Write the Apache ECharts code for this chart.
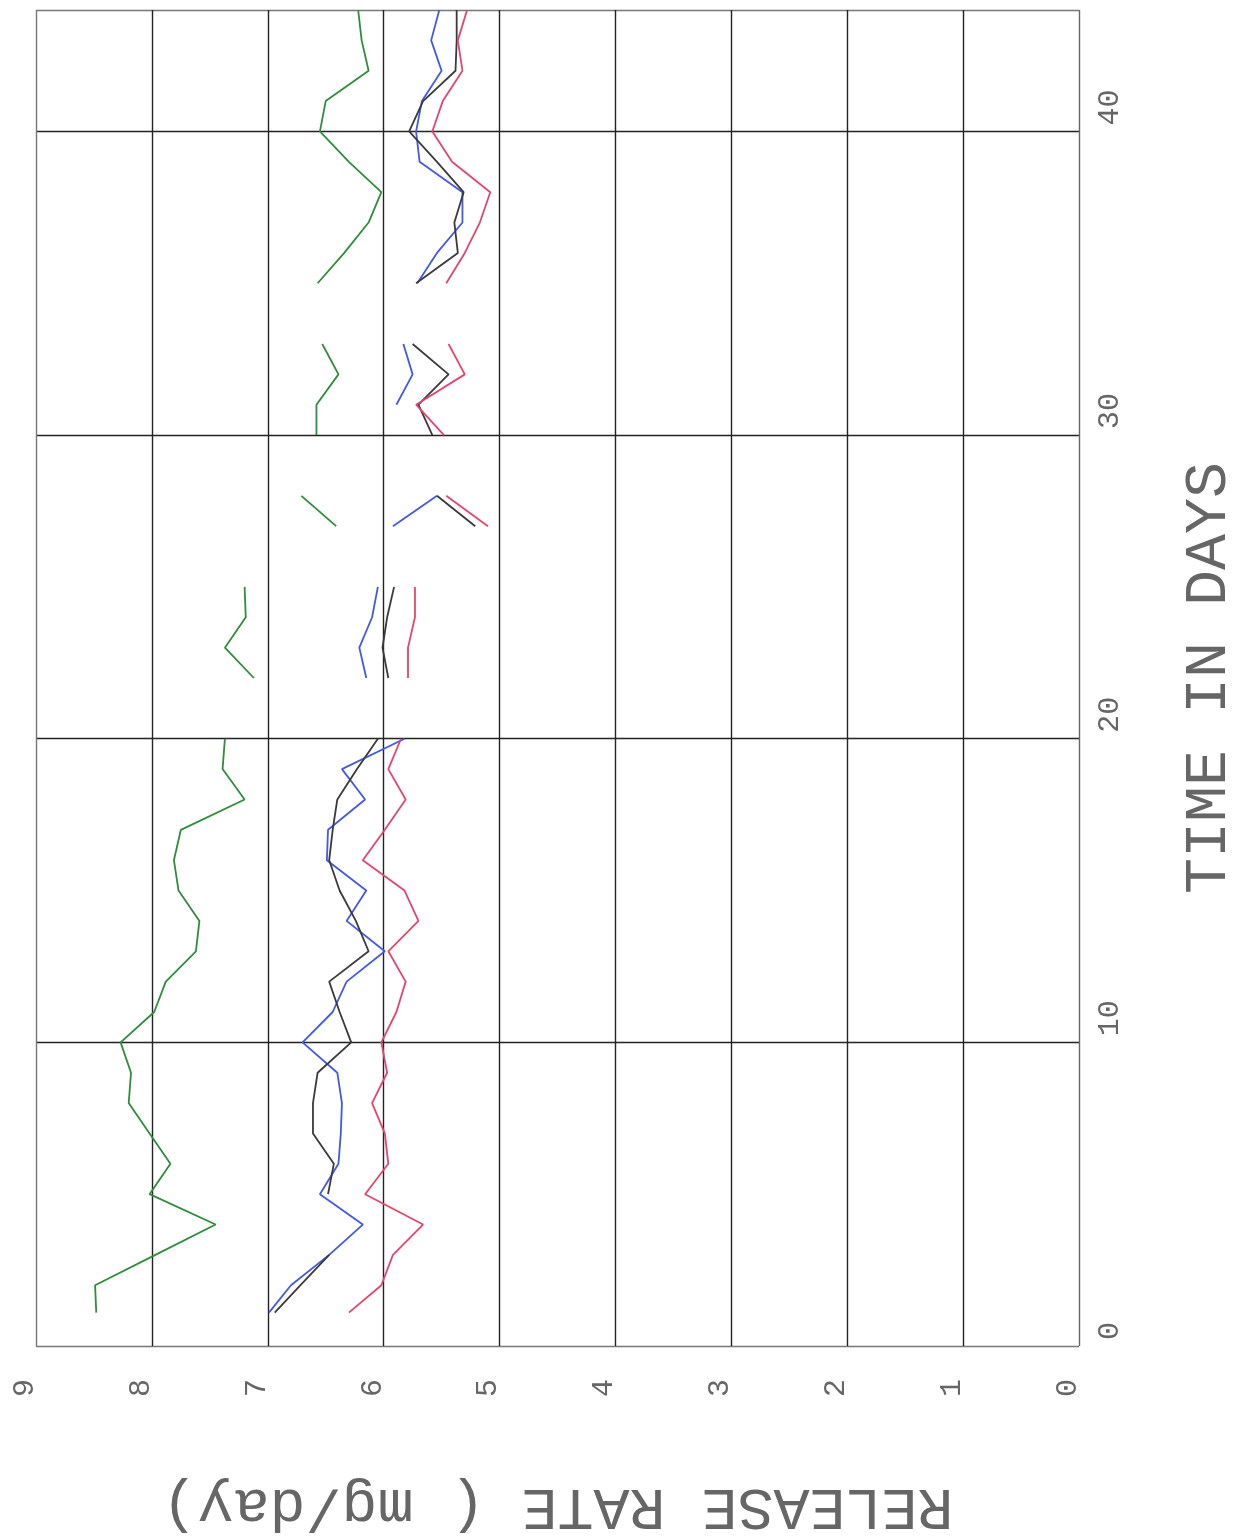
<!DOCTYPE html>
<html>
<head>
<meta charset="utf-8">
<script src="https://cdn.jsdelivr.net/npm/echarts@6/dist/echarts.min.js"></script>
<style>
html,body{margin:0;padding:0;background:#fff;}
#chart{width:1239px;height:1538px;}
</style>
</head>
<body>
<div id="chart"></div>
<script>
// Sample times (days) — vertical axis in this rotated plot
var days = [1.1, 2, 3, 4, 5, 6, 7, 8, 9, 10, 11, 12, 13, 14, 15, 16, 17, 18, 19, 20,
            21, 22, 23, 24, 25, 26, 27, 28, 29, 30, 31, 32, 33, 34, 35, 36, 37, 38, 39, 40,
            41, 42, 43, 44];
// Release rates (mg/day); null = no measurement
var greenRate = [8.48, 8.49, 7.97, 7.45, 8.02, 7.84, 8.02, 8.20, 8.18, 8.27, 7.98, 7.88, 7.62, 7.59, 7.77, 7.81, 7.75, 7.20, 7.39, 7.37,
                 null, 7.12, 7.37, 7.19, 7.20, null, 6.41, 6.71, null, 6.58, 6.58, 6.39, 6.53, null, 6.57, 6.34, 6.13, 6.02, 6.30, 6.55,
                 6.50, 6.13, 6.19, 6.22];
var blueRate  = [6.99, 6.80, 6.47, 6.18, 6.55, 6.39, 6.37, 6.36, 6.40, 6.70, 6.44, 6.32, 5.99, 6.32, 6.15, 6.49, 6.48, 6.16, 6.36, 5.82,
                 null, 6.15, 6.21, 6.10, 6.05, null, 5.92, 5.54, null, null, 5.89, 5.75, 5.83, null, 5.71, 5.54, 5.32, 5.32, 5.69, 5.72,
                 5.67, 5.50, 5.59, 5.52];
var blackRate = [6.94, 6.72, 6.47, null, 6.48, 6.43, 6.61, 6.61, 6.57, 6.28, 6.38, 6.47, 6.13, 6.24, 6.38, 6.47, 6.44, 6.40, 6.23, 6.05,
                 null, 5.96, 6.01, 5.97, 5.91, null, 5.21, 5.54, null, 5.58, 5.70, 5.44, 5.75, null, 5.72, 5.36, 5.39, 5.31, 5.54, 5.78,
                 5.66, 5.38, 5.37, 5.37];
var redRate   = [6.30, 6.02, 5.92, 5.66, 6.16, 5.96, 5.99, 6.10, 5.97, 6.02, 5.89, 5.81, 5.96, 5.70, 5.82, 6.18, 5.99, 5.81, 5.96, 5.85,
                 null, 5.79, 5.79, 5.73, 5.73, null, 5.10, 5.46, null, 5.48, 5.72, 5.30, 5.44, null, 5.46, 5.30, 5.17, 5.08, 5.41, 5.58,
                 5.49, 5.32, 5.36, 5.28];
var rateTicks = [0, 1, 2, 3, 4, 5, 6, 7, 8, 9];
var dayTicks = [0, 10, 20, 30, 40];

function pairs(vals) {
  return days.map(function (d, i) { return [vals[i] == null ? '-' : vals[i], d]; });
}
function mkSeries(name, vals, color) {
  return {
    name: name, type: 'line', data: pairs(vals), showSymbol: false, symbol: 'none',
    connectNulls: false, lineStyle: { color: color, width: 1.8 }, silent: true
  };
}

var FONT = '"Liberation Mono", "DejaVu Sans Mono", monospace';
var chart = echarts.init(document.getElementById('chart'), null, { renderer: 'canvas' });
chart.setOption({
  animation: false,
  backgroundColor: '#ffffff',
  grid: { left: 36, right: 160, top: 10, bottom: 192, containLabel: false, outerBoundsMode: 'none' },
  xAxis: {
    type: 'value', inverse: true, position: 'bottom',
    min: rateTicks[0], max: rateTicks[rateTicks.length - 1], interval: 1,
    name: 'RELEASE RATE ( mg/day)', nameLocation: 'middle', nameRotate: 180, nameGap: 130,
    nameTextStyle: { fontFamily: FONT, fontSize: 60, color: '#666' },
    axisLine: { show: false }, axisTick: { show: false },
    axisLabel: {
      rotate: 90, margin: 42, align: 'center', verticalAlign: 'bottom', lineHeight: 22,
      fontFamily: FONT, fontSize: 30, color: '#666'
    },
    splitLine: { show: true, lineStyle: { width: 1.4,
      color: ['#666', '#222', '#222', '#222', '#222', '#222', '#222', '#222', '#222', '#777'] } }
  },
  yAxis: {
    type: 'value', position: 'right',
    min: 0, max: 44, interval: 10,
    name: 'TIME IN DAYS', nameLocation: 'middle', nameRotate: 90, nameGap: 100,
    nameTextStyle: { fontFamily: FONT, fontSize: 60, color: '#666' },
    axisLine: { show: false }, axisTick: { show: false },
    axisLabel: {
      rotate: 90, margin: 31, align: 'left', verticalAlign: 'middle',
      padding: [0, 0, 0, 6], showMaxLabel: false,
      fontFamily: FONT, fontSize: 30, color: '#666',
      formatter: function (v) { return dayTicks.indexOf(v) >= 0 ? String(v) : ''; }
    },
    splitLine: { show: true, lineStyle: { width: 1.4,
      color: ['#777', '#222', '#222', '#222', '#222', '#777'] } }
  },
  series: [
    mkSeries('green', greenRate, '#2f8c3c'),
    mkSeries('blue', blueRate, '#4458e6'),
    mkSeries('black', blackRate, '#3a3a3a'),
    mkSeries('red', redRate, '#e2466e')
  ]
});
</script>
</body>
</html>
